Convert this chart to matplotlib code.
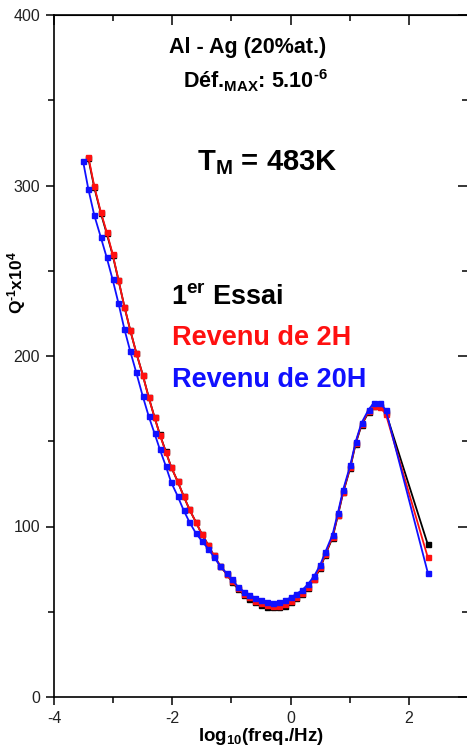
import matplotlib.pyplot as plt
import numpy as np

plt.rcParams['font.family'] = ['Liberation Sans', 'DejaVu Sans']
plt.rcParams['mathtext.fontset'] = 'custom'
plt.rcParams['mathtext.rm'] = 'Liberation Sans'
plt.rcParams['mathtext.bf'] = 'Liberation Sans:bold'
plt.rcParams['mathtext.it'] = 'Liberation Sans:italic'
plt.rcParams['axes.unicode_minus'] = False

# log10(freq) grid
x_blue = [-3.51, -3.42, -3.32, -3.21, -3.11, -3.01, -2.91, -2.81, -2.71, -2.61,
          -2.50, -2.40, -2.30, -2.21, -2.11, -2.02, -1.91, -1.81, -1.71, -1.60,
          -1.50, -1.39, -1.30, -1.19, -1.08, -0.99, -0.89, -0.79, -0.70, -0.60,
          -0.50, -0.40, -0.29, -0.19, -0.09, 0.01, 0.10, 0.19, 0.29, 0.40,
          0.50, 0.59, 0.71, 0.80, 0.89, 1.01, 1.10, 1.20, 1.32, 1.41,
          1.51, 1.61, 2.32]
q_blue = [314.5, 298, 282.7, 269.8, 257.9, 245, 231, 215.8, 202.7, 190.4,
          176.5, 164.8, 154.6, 145.2, 135.5, 126, 117.9, 109.7, 102.6, 96,
          91.5, 86.8, 82.3, 76.8, 72.5, 69, 64.7, 61.8, 60, 58.3,
          57, 55.7, 55.2, 55.6, 56.8, 58.5, 60.5, 62.5, 66, 71,
          77.4, 85.2, 95.3, 108, 121.7, 136, 149.7, 160.8, 168.6, 172.6,
          172.6, 168.3, 72.9]

x_red = x_blue[1:]
q_red = [317, 299.7, 284.6, 272.8, 260, 244.6, 229, 215, 202, 188.9,
         175.8, 164, 153.7, 143.8, 135, 126.5, 118, 110, 102.5, 95.5,
         89, 83, 77, 72, 68, 64, 60.5, 58.5, 56.5, 55,
         54, 53.5, 53.5, 54.5, 56.5, 58.5, 61, 64.5, 69.5, 76,
         84, 94, 107, 120.5, 135, 149, 160, 167.5, 170.5, 170,
         166, 81.9]

x_black = x_blue[1:]
q_black = [316, 299, 284, 272, 259.5, 244.5, 229, 215, 202, 189,
           176, 164, 154, 144, 135, 126.5, 118, 110, 102.5, 95.5,
           89, 83, 77, 72, 67.5, 63.5, 60, 57.5, 55.5, 54,
           53, 52.5, 52.5, 53.5, 55.5, 58, 60.5, 64, 69, 75.5,
           83.5, 93.5, 106.5, 120, 134.5, 148.5, 159.5, 167, 170.5, 170.5,
           167, 89.5]

W, H = 467, 747
fig = plt.figure(figsize=(W / 100, H / 100), dpi=100)
ax = fig.add_axes([54 / W, 50 / H, 414 / W, 682 / H])

ax.plot(x_black, q_black, color='black', lw=1.3, marker='s', ms=3.6, mec='black')
ax.plot(x_red, q_red, color='#ff1010', lw=1.3, marker='s', ms=3.6, mec='#ff1010')
ax.plot(x_blue, q_blue, color='#1010ff', lw=1.3, marker='s', ms=3.6, mec='#1010ff')

ax.set_xlim(-4, 3)
ax.set_ylim(0, 400)
ax.set_xticks([-4, -2, 0, 2])
ax.set_xticks([-3, -1, 1], minor=True)
ax.set_yticks([0, 100, 200, 300, 400])
ax.set_yticks([50, 150, 250, 350], minor=True)
ax.tick_params(which='major', direction='out', length=6, width=1.1,
               labelsize=11.5, labelcolor='#222222', pad=4)
ax.tick_params(which='minor', direction='out', length=4, width=1.1)
for s in ax.spines.values():
    s.set_linewidth(1.2)

# inward ticks on top and right
top = ax.secondary_xaxis('top')
top.set_xticks([-4, -2, 0, 2])
top.set_xticks([-3, -1, 1], minor=True)
top.tick_params(which='major', direction='in', length=7, width=1.1, labeltop=False)
top.tick_params(which='minor', direction='in', length=4, width=1.1)
right = ax.secondary_yaxis('right')
right.set_yticks([0, 100, 200, 300, 400])
right.set_yticks([50, 150, 250, 350], minor=True)
right.tick_params(which='major', direction='in', length=7, width=1.1, labelright=False)
right.tick_params(which='minor', direction='in', length=4, width=1.1)

ax.set_xlabel(r'log$_{\mathbf{10}}$(freq./Hz)', fontsize=13.5, fontweight='bold')
ax.xaxis.set_label_coords(0.5, -0.043)
ax.set_ylabel('Q$^{\\mathbf{\u20101}}$x10$^{\\mathbf{4}}$', fontsize=12.5, fontweight='bold')
ax.yaxis.set_label_coords(-0.063, 0.607)

ax.text(-0.73, 378, 'Al - Ag (20%at.)', fontsize=15.5, fontweight='bold',
        ha='center', va='baseline')
ax.text(-0.6, 357, 'Déf.$_{\\mathbf{MAX}}$: 5.10$^{\\mathbf{\u20106}}$', fontsize=15.5,
        fontweight='bold', ha='center', va='baseline')
ax.text(-0.4, 309, r'T$_{\mathbf{M}}$ = 483K', fontsize=21, fontweight='bold',
        ha='center', va='baseline')
ax.text(-2.03, 230.5, r'1$^{\mathbf{er}}$ Essai', fontsize=19.5, fontweight='bold',
        color='black', ha='left', va='baseline')
ax.text(-2.0, 206.5, 'Revenu de 2H', fontsize=19.5, fontweight='bold',
        color='#ff1010', ha='left', va='baseline')
ax.text(-2.0, 182, 'Revenu de 20H', fontsize=19.5, fontweight='bold',
        color='#1010ff', ha='left', va='baseline')

fig.savefig('out.png', dpi=100)
